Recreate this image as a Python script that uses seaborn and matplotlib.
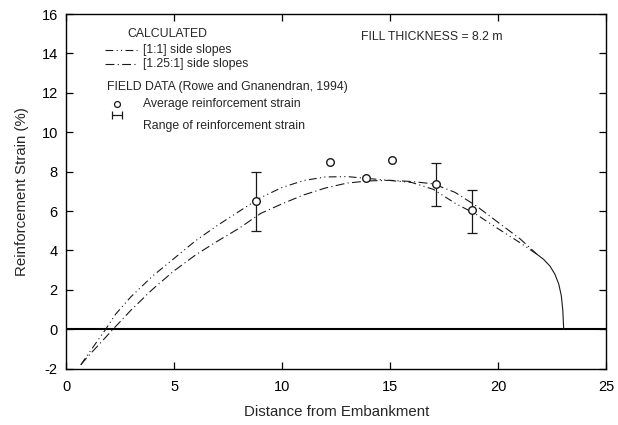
import numpy as np
import pandas as pd
import matplotlib
matplotlib.use("Agg")
import matplotlib.pyplot as plt
import seaborn as sns

# Calculated strain profiles (distance from embankment in m, strain in %)
x_slope_1_1 = [0.68, 1.0, 1.5, 1.83, 2.3, 3.0, 4.0, 5.0, 6.0, 7.0, 8.0, 9.0, 10.0, 11.0,
               12.0, 13.0, 14.0, 15.0, 16.0, 17.0, 18.0, 19.0, 20.0, 21.0, 21.8]
y_slope_1_1 = [-1.8, -1.29, -0.51, 0.0, 0.78, 1.65, 2.7, 3.6, 4.5, 5.27, 5.98, 6.68, 7.2, 7.55,
               7.73, 7.75, 7.65, 7.55, 7.45, 7.1, 6.4, 5.82, 5.1, 4.4, 3.8]

x_slope_125_1 = [0.68, 1.0, 1.5, 2.17, 3.0, 4.0, 5.0, 6.0, 7.0, 8.0, 9.0, 10.0, 11.0,
                 12.0, 13.0, 14.0, 15.0, 16.0, 17.0, 18.0, 19.0, 20.0, 21.0, 21.8]
y_slope_125_1 = [-1.8, -1.39, -0.8, 0.0, 0.97, 2.03, 2.97, 3.78, 4.47, 5.12, 5.88, 6.37, 6.82,
                 7.17, 7.42, 7.53, 7.56, 7.5, 7.38, 6.95, 6.25, 5.42, 4.6, 3.8]

# Common end portion near the toe
x_tail = [21.8, 22.1, 22.4, 22.62, 22.8, 22.92, 22.99, 23.03]
y_tail = [3.8, 3.55, 3.2, 2.8, 2.3, 1.7, 0.95, 0.0]

# Field data (Rowe and Gnanendran, 1994)
x_field = [8.8, 12.2, 13.9, 15.1, 17.1, 18.8]
y_field = [6.5, 8.5, 7.7, 8.6, 7.35, 6.05]

x_range = [8.8, 17.1, 18.8]
y_range_avg = [6.5, 7.35, 6.05]
y_range_low = [5.0, 6.25, 4.9]
y_range_high = [8.0, 8.45, 7.05]

sns.set_style("ticks")
plt.rcParams["font.family"] = ["Liberation Sans", "DejaVu Sans"]
plt.rcParams["axes.unicode_minus"] = False

fig = plt.figure(figsize=(6.18, 4.25), dpi=100)
ax = fig.add_axes([0.107, 0.1325, 0.874, 0.8345])

ink = "#1a1a1a"

curves = pd.concat([
    pd.DataFrame({"x": x_slope_1_1, "y": y_slope_1_1, "case": "[1:1] side slopes"}),
    pd.DataFrame({"x": x_slope_125_1, "y": y_slope_125_1, "case": "[1.25:1] side slopes"}),
    pd.DataFrame({"x": x_tail, "y": y_tail, "case": "toe"}),
], ignore_index=True)

dash_map = {
    "[1:1] side slopes": (7, 3, 1, 3, 1, 3),
    "[1.25:1] side slopes": (8, 3, 1, 3),
    "toe": "",
}
sns.lineplot(data=curves, x="x", y="y", style="case", dashes=dash_map, color=ink,
             linewidth=0.8, sort=False, estimator=None, legend=False, ax=ax)

# Zero strain reference line
ax.axhline(0, color="black", linewidth=1.5, zorder=1)

# Field measurements
ax.errorbar(x_range, y_range_avg,
            yerr=[np.subtract(y_range_avg, y_range_low), np.subtract(y_range_high, y_range_avg)],
            fmt="none", ecolor=ink, elinewidth=0.9, capsize=3.5, capthick=0.9, zorder=3)
sns.scatterplot(x=x_field, y=y_field, marker="o", s=30, facecolor="white",
                edgecolor=ink, linewidth=1.0, zorder=4, ax=ax)

ax.set_xlim(0, 25)
ax.set_ylim(-2, 16)
ax.set_xticks(np.arange(0, 26, 5))
ax.set_yticks(np.arange(-2, 17, 2))
ax.tick_params(direction="in", length=5, width=0.9, top=True, right=True,
               labelsize=10.5, colors="black")
ax.tick_params(axis="x", pad=8)
ax.tick_params(axis="y", pad=6)
for sp in ax.spines.values():
    sp.set_visible(True)
    sp.set_linewidth(1.0)
    sp.set_color("black")

ax.set_xlabel("Distance from Embankment", fontsize=10.8, labelpad=8)
ax.set_ylabel("Reinforcement Strain (%)", fontsize=10.8, labelpad=9)

# Key
fs = 8.8
ax.text(2.82, 14.99, "CALCULATED", fontsize=fs, va="center", ha="left")
ax.plot([1.8, 3.3], [14.18, 14.18], color=ink, linewidth=0.8, dashes=(7, 3, 1, 3, 1, 3))
ax.text(3.56, 14.18, "[1:1] side slopes", fontsize=fs, va="center", ha="left")
ax.plot([1.8, 3.3], [13.47, 13.47], color=ink, linewidth=0.8, dashes=(8, 3, 1, 3))
ax.text(3.56, 13.47, "[1.25:1] side slopes", fontsize=fs, va="center", ha="left")
ax.text(1.9, 12.3, "FIELD DATA (Rowe and Gnanendran, 1994)", fontsize=fs, va="center", ha="left")
ax.scatter([2.36], [11.44], marker="o", s=18, facecolor="white", edgecolor=ink, linewidth=0.9)
ax.text(3.56, 11.44, "Average reinforcement strain", fontsize=fs, va="center", ha="left")
ax.errorbar([2.36], [10.88], xerr=[[0.22], [0.22]], fmt="none", ecolor=ink,
            elinewidth=0.9, capsize=3, capthick=0.9)
ax.text(3.56, 10.32, "Range of reinforcement strain", fontsize=fs, va="center", ha="left")

ax.text(13.66, 14.84, "FILL THICKNESS = 8.2 m", fontsize=fs, va="center", ha="left")

fig.savefig("out.png", dpi=100)
